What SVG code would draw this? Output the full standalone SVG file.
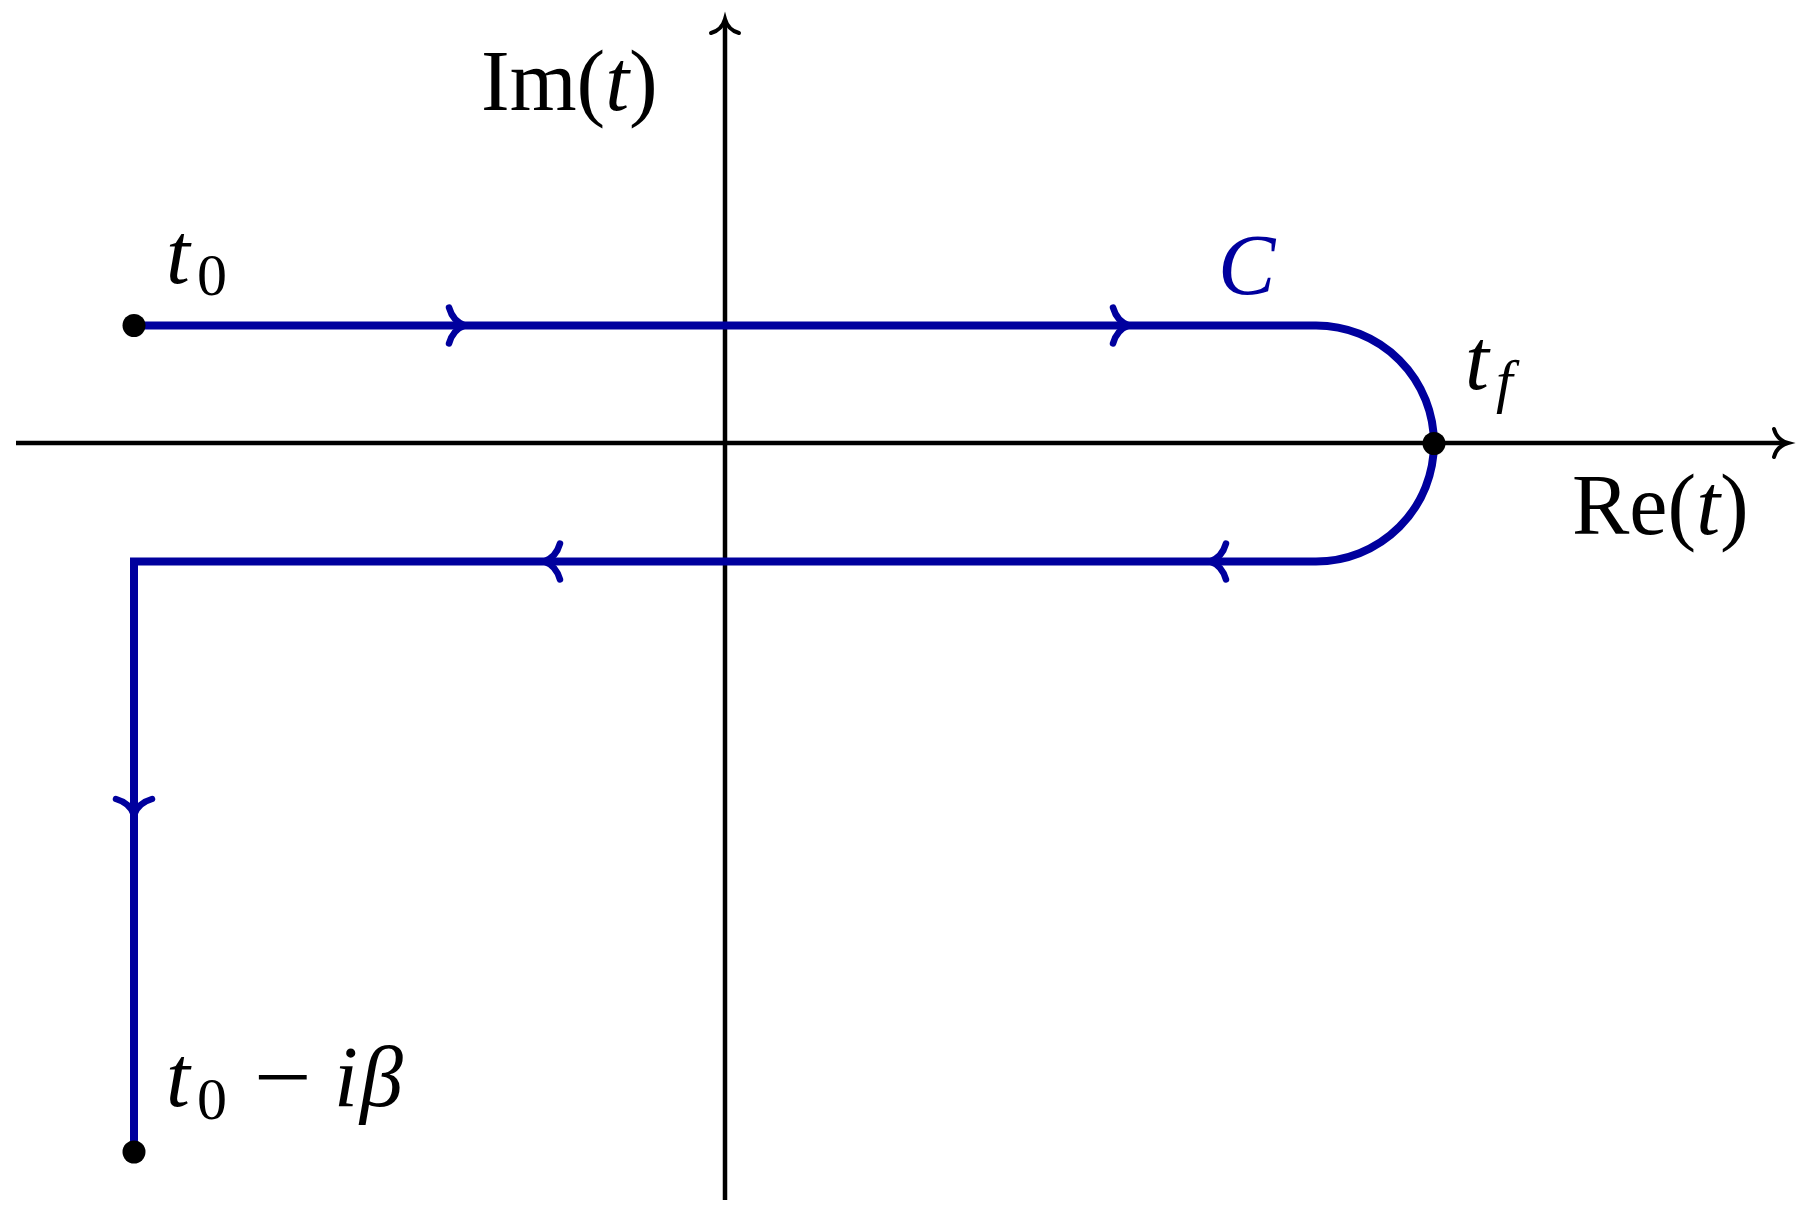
<svg xmlns="http://www.w3.org/2000/svg" xmlns:xlink="http://www.w3.org/1999/xlink" width="1809" height="1220" viewBox="0 0 1809 1220">
<style>
.ax{stroke:#000;stroke-width:4.5;fill:none}
.axh{stroke:#000;stroke-width:4;fill:none;stroke-linecap:round}
.ct{stroke:#00009E;stroke-width:8;fill:none}
.ah{stroke:#00009E;stroke-width:6.5;fill:none;stroke-linecap:round}
.dot{fill:#000}
.tx{font-family:"Liberation Serif","DejaVu Serif",serif;font-size:86px;fill:#000}
.it{font-style:italic}
.sub{font-size:60px}
</style>
<defs>
<path id="arr" d="M-16 -18 Q-12 -4 0 0 Q-12 4 -16 18"/>
<path id="axarr" d="M-14 -14 Q-11 -3 0 0 Q-11 3 -14 14"/>
</defs>
<rect width="1809" height="1220" fill="#fff"/>
<g id="axes">
<line class="ax" x1="16" y1="443" x2="1786" y2="443"/>
<use href="#axarr" class="axh" transform="translate(1788,443)"/>
<line class="ax" x1="725" y1="1200" x2="725" y2="21"/>
<use href="#axarr" class="axh" transform="translate(725,19) rotate(-90)"/>
</g>
<g id="connectors">
<path class="ct" d="M134 325.5 H1316 A118 118 0 0 1 1316 561.5 H134 V1152"/>
<use href="#arr" class="ah" transform="translate(465,325.5)"/>
<use href="#arr" class="ah" transform="translate(1129,325.5)"/>
<use href="#arr" class="ah" transform="translate(1210,561.5) rotate(180)"/>
<use href="#arr" class="ah" transform="translate(544,561.5) rotate(180)"/>
<use href="#arr" class="ah" transform="translate(134,815) rotate(90)"/>
</g>
<g id="node-t0">
<circle class="dot" cx="134" cy="325.5" r="11.5"/>
<text class="tx"><tspan class="it" x="166" y="283">t</tspan><tspan class="sub" x="197" y="295">0</tspan></text>
</g>
<g id="node-tf">
<circle class="dot" cx="1434" cy="443.5" r="11.5"/>
<text class="tx"><tspan class="it" x="1465" y="389">t</tspan><tspan class="it sub" x="1496" y="401">f</tspan></text>
</g>
<g id="node-t0ib">
<circle class="dot" cx="134" cy="1152" r="11.5"/>
<text class="tx"><tspan class="it" x="166" y="1106">t</tspan><tspan class="sub" x="197" y="1119">0</tspan><tspan x="254" y="1106" textLength="58" lengthAdjust="spacingAndGlyphs">−</tspan><tspan class="it" x="334" y="1106">i</tspan><tspan class="it" x="360" y="1106">β</tspan></text>
</g>
<g id="label-C">
<text class="tx it" x="1218" y="294" style="fill:#00009E">C</text>
</g>
<g id="label-Im">
<text class="tx" x="481" y="110">Im(<tspan class="it">t</tspan>)</text>
</g>
<g id="label-Re">
<text class="tx" x="1572" y="534">Re(<tspan class="it">t</tspan>)</text>
</g>
</svg>
